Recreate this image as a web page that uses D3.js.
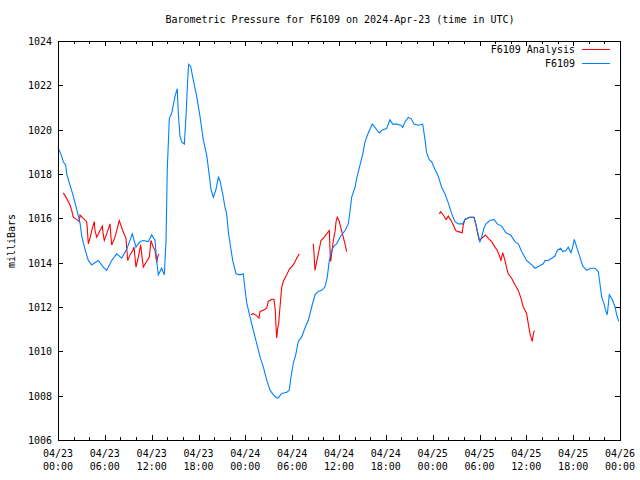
<!DOCTYPE html>
<html>
<head>
<meta charset="utf-8">
<script src="https://cdn.jsdelivr.net/npm/d3@7"></script>
<style>
  body { margin: 0; background: #fff; }
  text { font-family: "DejaVu Sans Mono", "Liberation Mono", monospace; font-size: 10px; fill: #000; }
</style>
</head>
<body>
<svg id="chart" width="640" height="480"></svg>
<script>
// ---- data (hours since 2024-04-23 00:00 UTC, pressure in mb) ----
const blueHours = [0.0,0.47,0.68,0.99,1.11,1.54,1.96,2.40,2.82,3.04,3.46,3.88,4.32,4.52,5.16,5.80,6.24,6.88,7.52,8.16,8.80,9.52,9.99,10.50,10.93,11.57,12.00,12.43,12.64,12.85,13.28,13.62,13.84,14.00,14.26,14.57,14.99,15.28,15.41,15.63,15.85,16.18,16.40,16.62,16.74,17.00,17.33,17.77,18.19,18.61,19.05,19.47,19.60,19.90,20.24,20.54,20.75,21.10,21.39,21.61,21.82,22.03,22.38,22.80,23.32,23.74,23.96,24.17,24.60,25.02,25.46,25.88,26.30,26.74,27.16,27.58,28.02,28.22,28.66,29.30,29.63,29.85,30.14,30.49,30.78,31.22,31.64,32.07,32.50,32.92,33.35,33.78,34.20,34.50,34.76,35.06,35.36,35.70,36.13,36.77,37.19,37.41,37.62,38.05,38.27,38.69,39.04,39.33,39.75,40.26,40.61,41.16,41.60,42.11,42.53,42.88,43.39,43.90,44.16,44.45,44.88,45.22,45.61,46.16,46.72,47.02,47.23,47.57,47.87,48.30,48.72,49.15,49.58,50.00,50.44,50.86,51.28,51.84,52.14,52.69,53.29,53.55,53.84,54.06,54.28,54.57,54.83,55.34,55.85,56.28,56.84,57.39,57.99,58.54,58.97,59.40,60.04,60.68,61.11,61.66,62.17,62.39,62.81,63.25,63.67,63.96,64.40,64.66,65.08,65.37,65.72,65.94,66.14,66.45,66.78,67.22,67.73,68.24,68.79,69.22,69.43,69.65,69.95,70.20,70.37,70.63,71.06,71.36,71.58,71.83];
const bluePressure = [1019.2,1018.8,1018.55,1018.4,1018.0,1017.5,1017.0,1016.4,1015.8,1015.2,1014.6,1014.1,1013.9,1013.95,1014.1,1013.8,1013.65,1014.1,1014.4,1014.2,1014.6,1015.3,1014.7,1014.95,1015.0,1014.95,1015.25,1015.0,1014.1,1013.45,1013.75,1013.45,1015.0,1018.2,1020.5,1020.75,1021.5,1021.85,1020.75,1019.7,1019.45,1019.35,1020.6,1022.3,1022.95,1022.85,1022.25,1021.5,1020.6,1019.55,1018.85,1017.7,1017.3,1016.95,1017.3,1017.85,1017.7,1017.1,1016.5,1016.2,1015.4,1014.9,1014.1,1013.5,1013.45,1013.5,1012.8,1012.2,1011.55,1010.95,1010.35,1009.75,1009.3,1008.7,1008.25,1008.05,1007.9,1007.9,1008.1,1008.15,1008.25,1008.85,1009.45,1009.9,1010.45,1010.65,1011.05,1011.4,1012.0,1012.55,1012.7,1012.75,1012.9,1013.35,1014.1,1014.55,1014.75,1014.85,1015.15,1015.45,1015.75,1016.3,1016.95,1017.4,1017.8,1018.4,1018.9,1019.45,1019.85,1020.25,1020.1,1019.85,1020.0,1020.05,1020.45,1020.25,1020.25,1020.2,1020.1,1020.35,1020.55,1020.5,1020.25,1020.2,1020.25,1019.55,1018.95,1018.65,1018.55,1018.2,1017.9,1017.4,1017.1,1016.7,1016.2,1015.85,1015.75,1015.75,1015.95,1016.05,1016.05,1015.7,1015.25,1014.95,1015.15,1015.55,1015.75,1015.9,1015.95,1015.75,1015.65,1015.35,1015.25,1014.95,1014.85,1014.5,1014.1,1013.9,1013.75,1013.85,1013.95,1014.1,1014.1,1014.2,1014.3,1014.55,1014.65,1014.5,1014.55,1014.7,1014.45,1014.7,1015.05,1014.7,1014.35,1013.85,1013.65,1013.75,1013.75,1013.6,1013.05,1012.45,1012.15,1011.8,1011.65,1012.55,1012.3,1012.0,1011.65,1011.35];

// null values mark gaps in the analysis series
const redHours = [0.68,1.11,1.54,1.76,1.96,2.60,2.73,2.82,3.24,3.68,3.80,3.88,4.10,4.32,4.65,4.74,4.96,5.38,5.68,5.80,5.93,6.24,6.66,6.79,6.88,7.30,7.85,8.29,8.71,8.80,8.93,9.22,9.57,9.74,9.86,9.99,10.29,10.59,10.72,10.93,11.36,11.70,11.91,12.21,12.43,12.64,12.77,12.90,
  18.0,
  24.72,25.02,25.46,25.75,25.88,26.30,26.74,26.94,27.38,27.67,27.84,27.93,28.02,28.15,28.27,28.44,28.66,28.86,29.30,29.63,30.14,30.58,30.91,
  31.8,
  32.71,32.80,32.92,33.14,33.35,33.69,34.11,34.42,34.76,34.85,34.93,35.06,35.27,35.49,35.62,35.78,36.00,36.22,36.47,36.77,36.98,
  42.0,
  48.85,49.03,49.36,49.71,50.00,50.44,50.64,50.95,51.28,51.79,51.92,52.14,52.69,53.29,53.55,53.84,53.97,54.28,54.79,55.12,55.55,55.98,56.28,56.62,56.75,56.97,57.26,57.48,57.68,58.12,58.54,58.97,59.31,59.61,59.83,60.04,60.25,60.47,60.76,60.89,61.02];
const redPressure = [1017.15,1016.9,1016.6,1016.35,1016.05,1015.9,1015.85,1016.15,1016.0,1015.85,1015.3,1014.85,1015.1,1015.45,1015.85,1015.45,1015.15,1015.45,1015.65,1015.25,1015.0,1015.3,1015.75,1015.15,1014.8,1015.15,1015.9,1015.45,1015.1,1014.65,1014.1,1014.35,1014.55,1014.7,1014.25,1013.8,1014.25,1014.8,1014.4,1013.8,1014.05,1014.25,1015.0,1014.7,1014.55,1014.0,1014.25,1014.4,
  null,
  1011.65,1011.7,1011.6,1011.5,1011.8,1011.85,1011.95,1012.25,1012.35,1012.35,1011.85,1011.1,1010.6,1011.05,1011.25,1012.0,1012.9,1013.15,1013.45,1013.7,1013.9,1014.2,1014.4,
  null,
  1014.85,1014.4,1013.65,1014.05,1014.4,1015.0,1015.15,1015.3,1015.45,1014.55,1014.05,1014.4,1015.0,1015.4,1015.85,1016.05,1015.9,1015.6,1015.25,1014.85,1014.5,
  null,
  1016.2,1016.3,1016.15,1015.95,1016.1,1015.85,1015.7,1015.45,1015.4,1015.35,1015.7,1015.95,1016.05,1016.05,1015.7,1015.2,1015.0,1015.1,1015.25,1015.1,1014.95,1014.7,1014.55,1014.25,1014.1,1014.45,1014.1,1013.75,1013.5,1013.3,1013.0,1012.75,1012.4,1012.0,1011.85,1011.7,1011.25,1010.8,1010.45,1010.75,1010.95];

const yTicks = [1006,1008,1010,1012,1014,1016,1018,1020,1022,1024];
const xTickHours = [0,6,12,18,24,30,36,42,48,54,60,66,72];
const xTickDates = ["04/23","04/23","04/23","04/23","04/24","04/24","04/24","04/24","04/25","04/25","04/25","04/25","04/26"];
const xTickTimes = ["00:00","06:00","12:00","18:00","00:00","06:00","12:00","18:00","00:00","06:00","12:00","18:00","00:00"];
const minorStepHours = 2;
const seriesNames = ["F6109 Analysis", "F6109"];
const seriesColors = ["#ff0000", "#0080ff"];
const titleText = "Barometric Pressure for F6109 on 2024-Apr-23 (time in UTC)";
const yLabel = "milliBars";

// ---- layout ----
const svg = d3.select("#chart");
const L = 58, R = 620, T = 41, B = 440;
const x = d3.scaleLinear().domain([0, 72]).range([L, R]);
const y = d3.scaleLinear().domain([1006, 1024]).range([B, T]);

// ticks
const tg = svg.append("g").attr("stroke", "#000").attr("stroke-width", 1).attr("shape-rendering", "crispEdges");
const minor = d3.range(0, 72 + 0.001, minorStepHours).filter(h => h % 6 !== 0);
minor.forEach(h => {
  const px = Math.round(x(h)) + 0.5;
  tg.append("line").attr("x1", px).attr("x2", px).attr("y1", B).attr("y2", B - 3);
  tg.append("line").attr("x1", px).attr("x2", px).attr("y1", T).attr("y2", T + 3);
});
xTickHours.forEach(h => {
  const px = Math.round(x(h)) + 0.5;
  tg.append("line").attr("x1", px).attr("x2", px).attr("y1", B).attr("y2", B - 5);
  tg.append("line").attr("x1", px).attr("x2", px).attr("y1", T).attr("y2", T + 5);
});
yTicks.forEach(v => {
  const py = Math.round(y(v)) + 0.5;
  tg.append("line").attr("x1", L).attr("x2", L + 5).attr("y1", py).attr("y2", py);
  tg.append("line").attr("x1", R).attr("x2", R - 5).attr("y1", py).attr("y2", py);
});

// tick labels
yTicks.forEach(v => {
  svg.append("text").attr("x", L - 6).attr("y", y(v) + 4).attr("text-anchor", "end").text(v);
});
xTickHours.forEach((h, i) => {
  svg.append("text").attr("x", x(h)).attr("y", B + 17).attr("text-anchor", "middle").text(xTickDates[i]);
  svg.append("text").attr("x", x(h)).attr("y", B + 30).attr("text-anchor", "middle").text(xTickTimes[i]);
});

// title and axis label
svg.append("text").attr("x", 340).attr("y", 23).attr("text-anchor", "middle").text(titleText);
svg.append("text").attr("transform", "translate(15,241) rotate(-90)").attr("text-anchor", "middle").text(yLabel);

// data lines
const line = d3.line()
  .defined(d => d.p != null)
  .x(d => x(d.h))
  .y(d => y(d.p));
const redData = redHours.map((h, i) => ({h, p: redPressure[i]}));
const blueData = blueHours.map((h, i) => ({h, p: bluePressure[i]}));
svg.append("path").datum(redData).attr("d", line)
  .attr("fill", "none").attr("stroke", seriesColors[0]).attr("stroke-width", 1.1);
svg.append("path").datum(blueData).attr("d", line)
  .attr("fill", "none").attr("stroke", seriesColors[1]).attr("stroke-width", 1.1);

// legend
[0, 1].forEach(i => {
  const ly = 49 + i * 14;
  svg.append("text").attr("x", 575).attr("y", ly + 4).attr("text-anchor", "end").text(seriesNames[i]);
  svg.append("line").attr("x1", 582).attr("x2", 610).attr("y1", ly + 0.5).attr("y2", ly + 0.5)
    .attr("stroke", seriesColors[i]).attr("stroke-width", 1).attr("shape-rendering", "crispEdges");
});

// frame
svg.append("rect").attr("x", L + 0.5).attr("y", T + 0.5).attr("width", R - L).attr("height", B - T)
  .attr("fill", "none").attr("stroke", "#000").attr("stroke-width", 1).attr("shape-rendering", "crispEdges");
</script>
</body>
</html>
